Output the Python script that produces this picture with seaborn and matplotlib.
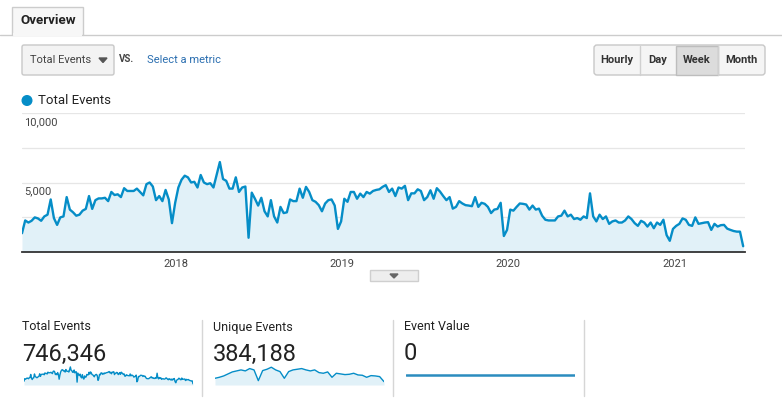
import numpy as np
import pandas as pd
import seaborn as sns
import matplotlib.pyplot as plt
from matplotlib.patches import Rectangle, FancyBboxPatch, Circle, Polygon

# Canvas size in pixels
W, H = 782, 398

# Weekly Total Events (Feb 2017 - Jun 2021)
total_events = [
    1350, 2270, 2120, 2245, 2490, 2415, 2245, 2560, 2685, 3780, 2440, 1950, 2490,
    2560, 3950, 3050, 2855, 2610, 2685, 2975, 3100, 4025, 3100, 3730, 3855, 3855,
    3900, 3660, 4320, 4100, 4150, 3950, 4590, 4390, 4390, 4390, 4560, 4320, 4075,
    4880, 5000, 4710, 3730, 4025, 3660, 4465, 3780, 2075, 3540, 4640, 5200, 5490,
    5370, 5000, 5050, 4640, 5540, 5000, 4880, 4950, 4640, 5540, 6470, 5250, 5120,
    4560, 4560, 5370, 4320, 4640, 4710, 1025, 4270, 3830, 3340, 3900, 2930,
    2560, 3730, 2560, 2120, 3245, 2800, 2855, 3780, 3660, 3660, 4560, 3900, 4685,
    4320, 3730, 3610, 3370, 2930, 3490, 3730, 3780, 3340, 1660, 2200, 3830, 3610,
    4320, 4320, 3830, 4200, 3950, 4320, 4200, 4390, 4465, 4510, 4685, 4810, 4320,
    4560, 4025, 4640, 4560, 4760, 3730, 4220, 4220, 4510, 4390, 3730, 3950, 4440,
    3830, 4590, 4345, 4025, 3730, 3950, 3120, 3245, 3660, 3490, 3370, 3340, 3295,
    3950, 3245, 3540, 3465, 3245, 2800, 3050, 3100, 3540, 1150, 1590, 3050,
    2975, 3245, 3490, 3465, 3415, 3050, 3340, 3050, 3120, 2610, 2320, 2270, 2270,
    2270, 2560, 2610, 2975, 2560, 2685, 2370, 2440, 2320, 2560, 2440, 4220, 2560,
    2200, 2685, 2370, 2560, 2025, 2200, 2270, 2120, 2120, 2270, 2560,
    2370, 2075, 1880, 2245, 2120, 1830, 2120, 1710, 2120, 1950, 2320, 1220, 805,
    1660, 1880, 2025, 2415, 2320, 1950, 1880, 2490, 2025, 2075, 2120, 2145, 1590,
    2025, 1830, 1930, 1950, 1680, 1590, 1510, 1465, 1465, 415,
]

# Unique Events sparkline, coarse reading of the small chart
unique_events = [
    1200, 1380, 1620, 1980, 2340, 2520, 2700, 2520, 2940, 2700, 780, 2580, 2820,
    3180, 2700, 2400, 1200, 2400, 2700, 2820, 2940, 2700, 2520, 2700, 2220, 2100,
    2340, 1380, 2100, 1980, 1860, 1920, 2100, 1800, 1740, 1380, 1680, 1620, 1500, 600,
]

year_labels = ["2018", "2019", "2020", "2021"]
y_labels = [5000, 10000]
card_titles = ["Total Events", "Unique Events", "Event Value"]
card_values = ["746,346", "384,188", "0"]
buttons = ["Hourly", "Day", "Week", "Month"]

weeks = pd.date_range("2017-01-29", periods=len(total_events), freq="7D")
df = pd.DataFrame({"week": weeks, "events": total_events})
df_u = pd.DataFrame({
    "week": pd.date_range(weeks[0], weeks[-1], periods=len(unique_events)),
    "events": unique_events,
})
df_v = pd.DataFrame({"week": weeks, "value": [0] * len(weeks)})

sns.set_style("white")
plt.rcParams["font.family"] = ["Roboto", "DejaVu Sans"]

BLUE = "#058dc7"
FILL = "#e1f1f8"
TXT = "#333333"


def box(x0, y0, x1, y1):
    # pixel box (top-left origin) -> figure fraction rect
    return [x0 / W, 1 - y1 / H, (x1 - x0) / W, (y1 - y0) / H]


fig = plt.figure(figsize=(W / 100, H / 100), dpi=100)

# background layer for the UI chrome, in pixel coords
bg = fig.add_axes([0, 0, 1, 1])
bg.set_xlim(0, W)
bg.set_ylim(H, 0)
bg.axis("off")

# tab
bg.plot([0, 12], [34.5, 34.5], color="#cccccc", lw=1)
bg.plot([83, W], [34.5, 34.5], color="#cccccc", lw=1)
bg.add_patch(Rectangle((12, 7), 71, 28, facecolor="#f7f7f7", edgecolor="#cccccc", lw=1))
bg.add_patch(Rectangle((12.6, 33), 69.8, 3, facecolor="#f7f7f7", edgecolor="none"))
bg.text(20.5, 21, "Overview", fontsize=9.6, fontweight="bold", color="#222222", va="center")

# metric dropdown
bg.add_patch(FancyBboxPatch((22, 45), 92, 30, boxstyle="round,pad=0,rounding_size=2",
                            facecolor="#f3f3f3", edgecolor="#c8c8c8", lw=1))
bg.text(30, 60, "Total Events", fontsize=8, color="#444444", va="center")
bg.add_patch(Polygon([[99, 58], [107, 58], [103, 62.5]], color="#555555"))
bg.text(119, 59, "VS.", fontsize=7, fontweight="bold", color="#444444", va="center")
bg.text(147, 60, "Select a metric", fontsize=8, color="#2a6eb0", va="center")

# granularity buttons
bx = [594, 640, 676, 718, 765]
bg.add_patch(FancyBboxPatch((594, 45), 171, 30, boxstyle="round,pad=0,rounding_size=3",
                            facecolor="#f5f5f5", edgecolor="#c8c8c8", lw=1))
for i, name in enumerate(buttons):
    if name == "Week":
        bg.add_patch(Rectangle((bx[i], 45.5), bx[i + 1] - bx[i], 29,
                               facecolor="#dcdcdc", edgecolor="#bdbdbd", lw=1))
    elif i > 0:
        bg.plot([bx[i], bx[i]], [45.5, 74.5], color="#d0d0d0", lw=1)
    bg.text((bx[i] + bx[i + 1]) / 2, 60, name, fontsize=8, fontweight="bold",
            color=TXT, ha="center", va="center")

# legend
bg.add_patch(Circle((27, 100.5), 4.8, color=BLUE))
bg.text(38, 100.5, "Total Events", fontsize=9.5, color="#222222", va="center")

# collapse toggle under the chart
bg.add_patch(Rectangle((370, 270), 48, 11, facecolor="#eeeeee", edgecolor="#cfcfcf", lw=1))
bg.add_patch(Polygon([[390, 274], [398, 274], [394, 278]], color="#666666"))

# scorecards
cx = [22, 213, 404]
for i in range(3):
    bg.text(cx[i], 327, card_titles[i], fontsize=9, color="#222222", va="center")
    bg.text(cx[i], 354, card_values[i], fontsize=17, color="#222222", va="center")
for x in [202, 392.5, 584]:
    bg.plot([x, x], [320, 396], color="#d6d6d6", lw=1)

# main chart
ax = fig.add_axes(box(22, 113, 745, 252))
ax.patch.set_alpha(0)
for v in [2500, 5000, 7500, 10000]:
    ax.axhline(v, color="#e6e6e6", lw=0.9, zorder=0)
ax.fill_between(df["week"], df["events"], color=FILL, lw=0, zorder=1)
sns.lineplot(data=df, x="week", y="events", ax=ax, color=BLUE, lw=1.7, zorder=2)
ax.set_ylim(0, 10000)
ax.set_xlim(weeks[0], weeks[-1] + pd.Timedelta(days=4))
ax.set_yticks([])
ax.set_xticks(pd.to_datetime([f"{y}-01-01" for y in year_labels]))
ax.set_xticklabels(year_labels)
ax.tick_params(axis="x", length=0, pad=5, labelsize=8, labelcolor="#444444")
ax.set_xlabel("")
ax.set_ylabel("")
for s in ["top", "left", "right"]:
    ax.spines[s].set_visible(False)
ax.spines["bottom"].set_color("#333333")
ax.spines["bottom"].set_linewidth(1.3)
for v in y_labels:
    ax.annotate(f"{v:,}", xy=(0, v), xycoords=("axes fraction", "data"),
                xytext=(1.5, -3), textcoords="offset points", va="top",
                fontsize=8, color="#444444")

# sparklines
sp1 = fig.add_axes(box(24, 366, 193, 385))
sp1.fill_between(df["week"], df["events"], color=FILL, lw=0)
sns.lineplot(data=df, x="week", y="events", ax=sp1, color=BLUE, lw=1.0)
sp1.set_ylim(0, 6800)

sp2 = fig.add_axes(box(215, 366, 384, 385))
sp2.fill_between(df_u["week"], df_u["events"], color=FILL, lw=0)
sns.lineplot(data=df_u, x="week", y="events", ax=sp2, color=BLUE, lw=1.0)
sp2.set_ylim(0, 3400)

sp3 = fig.add_axes(box(406, 366, 575, 385))
sns.lineplot(data=df_v, x="week", y="value", ax=sp3, color="#2b8cbf", lw=1.8)
sp3.set_ylim(-0.55, 0.45)

for sp in [sp1, sp2, sp3]:
    sp.set_xlim(weeks[0], weeks[-1])
    sp.axis("off")
    sp.patch.set_alpha(0)

fig.savefig("out.png", dpi=100, facecolor="white")
